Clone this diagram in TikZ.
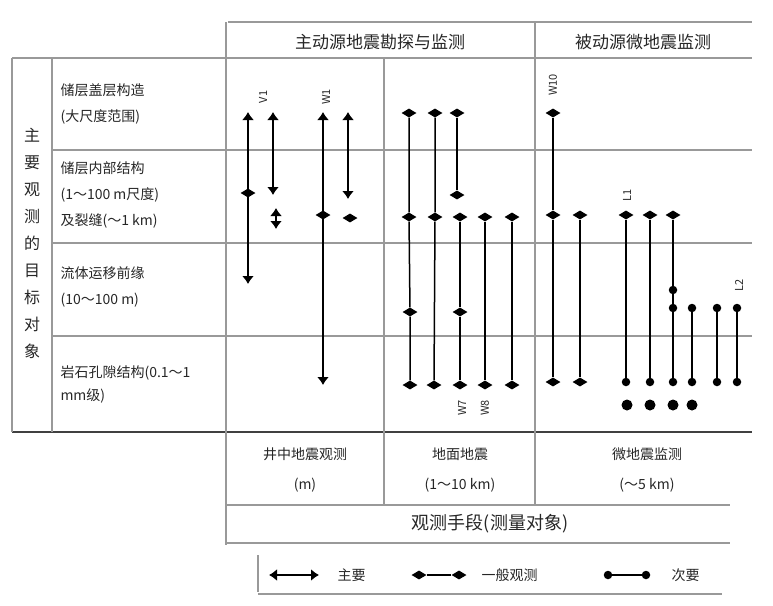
\documentclass[tikz,border=0pt]{standalone}
\usepackage{fontspec}
\setmainfont{Noto Sans CJK SC}
\usetikzlibrary{shapes.geometric, arrows.meta, positioning}

\begin{document}
\begin{tikzpicture}[
    x=1pt, y=-1pt,
    grid/.style={draw=black!40, line width=1.2pt},
    link/.style={draw=black, line width=1.5pt},
    twoway/.style={{Latex[length=8pt,width=12pt]}-{Latex[length=8pt,width=12pt]}},
    mk/.style={diamond, fill=black, inner sep=0pt, minimum width=15pt, minimum height=9pt},
    dot/.style={circle, fill=black, inner sep=0pt, minimum size=8.5pt},
    big dot/.style={circle, fill=black, inner sep=0pt, minimum size=11pt},
    row text/.style={anchor=west, align=left, text=black!85, font=\fontsize{14}{26}\selectfont},
    cell text/.style={align=center, text=black!85, font=\fontsize{14}{30}\selectfont},
    head text/.style={text=black!85, font=\fontsize{17}{18}\selectfont},
    well/.style={rotate=90, text=black!85, font=\fontsize{11}{11}\selectfont}
]
\useasboundingbox (0,0) rectangle (773,605);

% Tabella
\draw[grid] (228,22) -- (752,22);
\draw[grid] (12,58) -- (752,58);
\draw[grid] (52,150) -- (752,150);
\draw[grid] (52,243) -- (752,243);
\draw[grid] (52,336) -- (752,336);
\draw[grid, draw=black!75] (12,432) -- (752,432);
\draw[grid] (226,505) -- (730,505);
\draw[grid] (226,543) -- (730,543);
\draw[grid] (12,58) -- (12,432);
\draw[grid] (52,58) -- (52,432);
\draw[grid] (226,22) -- (226,545);
\draw[grid] (384,58) -- (384,505);
\draw[grid] (535,22) -- (535,505);

% Testi
\node[head text] (H1) at (380,42) {主动源地震勘探与监测};
\node[head text] (H2) at (643,42) {被动源微地震监测};
\node[head text, align=center, font=\fontsize{16}{27}\selectfont] (V) at (32,243)
    {主\\要\\观\\测\\的\\目\\标\\对\\象};
\node[row text] (R1) at (57,104) {储层盖层构造\\(大尺度范围)};
\node[row text] (R2) at (57,195) {储层内部结构\\(1～100 m尺度)\\及裂缝(～1 km)};
\node[row text] (R3) at (57,287) {流体运移前缘\\(10～100 m)};
\node[row text, font=\fontsize{14}{23}\selectfont] (R4) at (57,384) {岩石孔隙结构(0.1～1\\mm级)};
\node[cell text] (B1) at (305,470) {井中地震观测\\(m)};
\node[cell text] (B2) at (460,470) {地面地震\\(1～10 km)};
\node[cell text] (B3) at (647,470) {微地震监测\\(～5 km)};
\node[head text, font=\fontsize{18}{18}\selectfont] (B) at (490,524) {观测手段(测量对象)};

% Colonna 1
\coordinate (a1) at (248,112);
\coordinate (a3) at (248,284);
\coordinate (b1) at (273,112);
\coordinate (b2) at (273,195);
\coordinate (b3) at (276,208);
\coordinate (b4) at (276,229);
\coordinate (c1) at (323,112);
\coordinate (c3) at (323,385);
\coordinate (d1) at (348,112);
\coordinate (d2) at (348,199);
\draw[link, twoway] (a1) -- (a3);
\draw[link, twoway] (b1) -- (b2);
\draw[link, twoway] (b3) -- (b4);
\draw[link, twoway] (c1) -- (c3);
\draw[link, twoway] (d1) -- (d2);
\node[mk] (a2) at (248,193) {};
\node[mk] (c2) at (323,215) {};
\node[mk] (d3) at (350,218) {};
\node[well] (V1) at (263,97) {V1};
\node[well] (W1) at (326,97) {W1};

% Colonna 2
\node[mk] (e1) at (409,113) {};
\node[mk] (e2) at (409,217) {};
\node[mk] (e3) at (410,312) {};
\node[mk] (e4) at (410,385) {};
\node[mk] (f1) at (435,113) {};
\node[mk] (f2) at (435,217) {};
\node[mk] (f3) at (434,385) {};
\node[mk] (g1) at (457,113) {};
\node[mk] (g2) at (457,195) {};
\node[mk] (h1) at (460,217) {};
\node[mk] (h2) at (460,312) {};
\node[mk] (h3) at (460,385) {};
\node[mk] (i1) at (485,217) {};
\node[mk] (i2) at (485,385) {};
\node[mk] (j1) at (512,217) {};
\node[mk] (j2) at (512,385) {};
\draw[link] (e1) -- (e2) -- (e3) -- (e4);
\draw[link] (f1) -- (f2) -- (f3);
\draw[link] (g1) -- (g2);
\draw[link] (h1) -- (h2) -- (h3);
\draw[link] (i1) -- (i2);
\draw[link] (j1) -- (j2);
\node[well] (W7) at (462,408) {W7};
\node[well] (W8) at (485,408) {W8};

% Colonna 3
\node[mk] (k1) at (553,113) {};
\node[mk] (k2) at (553,215) {};
\node[mk] (k3) at (553,382) {};
\node[mk] (l1) at (580,215) {};
\node[mk] (l2) at (580,382) {};
\node[mk] (m1) at (626,215) {};
\node[dot] (m2) at (626,382) {};
\node[mk] (n1) at (650,215) {};
\node[dot] (n2) at (650,382) {};
\node[mk] (o1) at (673,215) {};
\node[dot] (o2) at (673,290) {};
\node[dot] (o3) at (673,308) {};
\node[dot] (o4) at (673,382) {};
\node[dot] (p1) at (692,308) {};
\node[dot] (p2) at (692,382) {};
\node[dot] (q1) at (717,308) {};
\node[dot] (q2) at (717,382) {};
\node[dot] (r1) at (737,308) {};
\node[dot] (r2) at (737,382) {};
\draw[link] (k1) -- (k2) -- (k3);
\draw[link] (l1) -- (l2);
\draw[link] (m1) -- (m2);
\draw[link] (n1) -- (n2);
\draw[link] (o1) -- (o2) -- (o3) -- (o4);
\draw[link] (p1) -- (p2);
\draw[link] (q1) -- (q2);
\draw[link] (r1) -- (r2);
\node[big dot] (m3) at (627,405) {};
\node[big dot] (n3) at (650,405) {};
\node[big dot] (o5) at (673,405) {};
\node[big dot] (p3) at (692,405) {};
\node[well] (W10) at (553,85) {W10};
\node[well] (L1) at (627,195) {L1};
\node[well] (L2) at (739,285) {L2};

% Legenda
\draw[grid] (258,555) -- (258,592);
\draw[grid] (258,594) -- (722,594);
\coordinate (g1a) at (269,575);
\coordinate (g1b) at (319,575);
\draw[link, twoway] (g1a) -- (g1b);
\node[cell text, anchor=west] (G1) at (334,575) {主要};
\node[mk] (g2a) at (419,575) {};
\node[mk] (g2b) at (459,575) {};
\draw[link] (g2a) -- (g2b);
\node[cell text, anchor=west] (G2) at (478,575) {一般观测};
\node[dot] (g3a) at (608,575) {};
\node[dot] (g3b) at (646,575) {};
\draw[link] (g3a) -- (g3b);
\node[cell text, anchor=west] (G3) at (668,575) {次要};

\end{tikzpicture}
\end{document}
